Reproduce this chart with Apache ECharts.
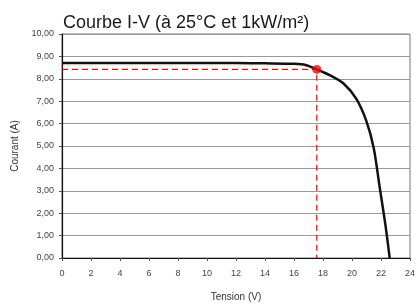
<!DOCTYPE html>
<html>
<head>
<meta charset="utf-8">
<script src="https://cdn.jsdelivr.net/npm/echarts@6/dist/echarts.min.js"></script>
<style>
  html, body { margin: 0; padding: 0; background: #fff; }
  #chart { width: 418px; height: 307px; }
</style>
</head>
<body>
<div id="chart"></div>
<script>
  // courbe I-V
  const tension = [0, 2, 4, 6, 8, 10, 12, 14, 16, 16.8, 17.57, 18.5, 19.4, 20.3, 21.0, 21.5, 21.9, 22.3, 22.6]
  const courant = [8.7, 8.7, 8.7, 8.7, 8.7, 8.7, 8.7, 8.69, 8.67, 8.62, 8.42, 8.15, 7.8, 7.1, 6.1, 4.9, 3.2, 1.5, 0]
  // point de puissance max
  const pmTension = 17.57
  const pmCourant = 8.42
  const xTicks = [0, 24, 2]
  const yTicks = [0, 10, 1]

  const chart = echarts.init(document.getElementById('chart'))
  const font = 'Liberation Sans, Arial, sans-serif'

  const option = {
    animation: false,
    backgroundColor: '#fff',
    title: {
      text: 'Courbe I-V (à 25°C et 1kW/m²)',
      left: 58,
      top: 9,
      textStyle: { fontFamily: font, fontSize: 18, fontWeight: 'normal', color: '#1a1a1a' }
    },
    grid: {
      left: 62, right: 5, top: 34, bottom: 46,
      show: true, borderColor: '#777', borderWidth: 1
    },
    xAxis: {
      type: 'value',
      min: xTicks[0], max: xTicks[1], interval: xTicks[2],
      name: 'Tension (V)',
      nameLocation: 'middle',
      nameGap: 34,
      nameTextStyle: { fontFamily: font, fontSize: 10, color: '#333' },
      axisLine: { lineStyle: { color: '#111', width: 1.2 } },
      axisTick: { show: true, length: 3, lineStyle: { color: '#555' } },
      axisLabel: { fontFamily: font, fontSize: 9, color: '#444', margin: 11 },
      splitLine: { show: false }
    },
    yAxis: {
      type: 'value',
      min: yTicks[0], max: yTicks[1], interval: yTicks[2],
      name: 'Courant (A)',
      nameLocation: 'middle',
      nameGap: 42,
      nameRotate: 90,
      nameTextStyle: { fontFamily: font, fontSize: 10, color: '#333' },
      axisLine: { show: true, lineStyle: { color: '#111', width: 1.2 } },
      axisTick: { show: true, length: 3, lineStyle: { color: '#555' } },
      axisLabel: {
        fontFamily: font, fontSize: 9, color: '#444', margin: 8,
        formatter: v => v.toFixed(2).replace('.', ',')
      },
      splitLine: { show: true, lineStyle: { color: '#999', width: 1 } }
    },
    series: [
      {
        type: 'line',
        data: tension.map((t, i) => [t, courant[i]]),
        smooth: 0.3,
        showSymbol: false,
        lineStyle: { color: '#111', width: 2.5 },
        z: 3
      },
      {
        type: 'line',
        data: [[0, pmCourant], [pmTension, pmCourant], [pmTension, 0]],
        showSymbol: false,
        lineStyle: { color: '#e01010', width: 1.2, type: [6, 4] },
        z: 2
      },
      {
        type: 'scatter',
        data: [[pmTension, pmCourant]],
        symbolSize: 9,
        itemStyle: { color: '#e81010' },
        z: 4
      }
    ]
  }
  chart.setOption(option)
</script>
</body>
</html>
